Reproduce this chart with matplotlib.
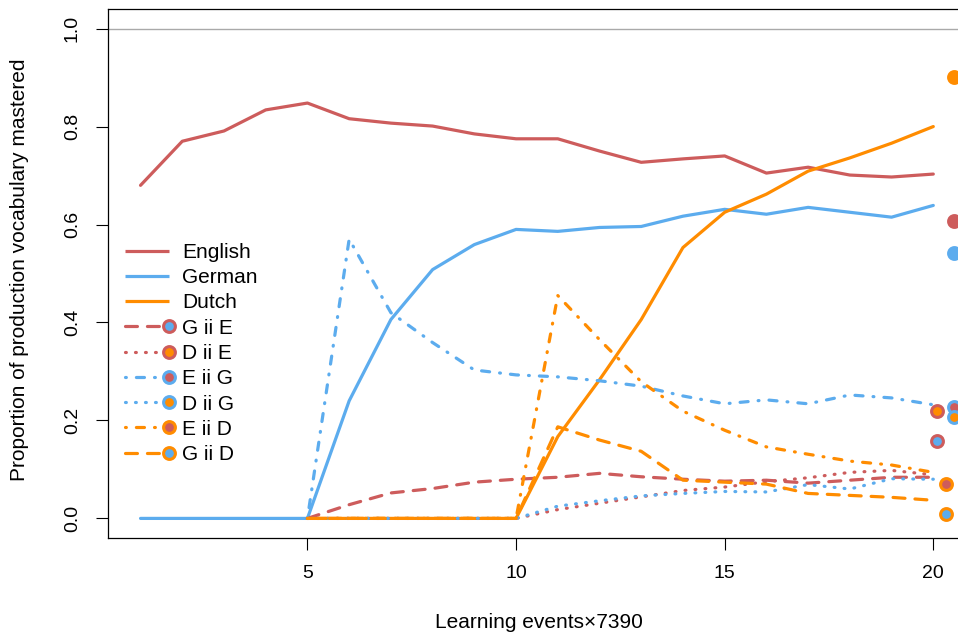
import numpy as np
import matplotlib
matplotlib.use("Agg")
import matplotlib.pyplot as plt
from matplotlib.lines import Line2D
from matplotlib.legend_handler import HandlerBase

plt.rcParams["font.family"] = ["Liberation Sans", "DejaVu Sans"]
plt.rcParams["lines.scale_dashes"] = False

nan = np.nan

# Learning events (in units of 7390)
steps = np.arange(1, 21)

# Proportion of production vocabulary mastered, per language
english = [0.680, 0.770, 0.791, 0.834, 0.848, 0.816, 0.807, 0.801, 0.785, 0.775,
           0.775, 0.750, 0.727, 0.734, 0.740, 0.705, 0.717, 0.701, 0.697, 0.703]
german = [0, 0, 0, 0, 0, 0.240, 0.406, 0.508, 0.559, 0.590,
          0.586, 0.594, 0.596, 0.617, 0.631, 0.621, 0.635, 0.625, 0.615, 0.639]
dutch = [nan, nan, nan, nan, 0, 0, 0, 0, 0, 0,
         0.167, 0.283, 0.406, 0.553, 0.625, 0.662, 0.709, 0.736, 0.766, 0.800]

# Cross-language intrusions
g_ii_e = [nan, nan, nan, nan, 0, 0.028, 0.052, 0.061, 0.074, 0.080,
          0.084, 0.092, 0.085, 0.080, 0.076, 0.078, 0.072, 0.078, 0.084, 0.084]
d_ii_e = [nan, nan, nan, nan, 0, 0, 0, 0, 0, 0,
          0.018, 0.031, 0.044, 0.057, 0.064, 0.075, 0.083, 0.094, 0.098, 0.089]
e_ii_g = [nan, nan, nan, nan, 0, 0.570, 0.420, 0.359, 0.303, 0.293,
          0.289, 0.281, 0.270, 0.250, 0.234, 0.242, 0.234, 0.252, 0.246, 0.232]
d_ii_g = [nan, nan, nan, nan, 0, 0, 0, 0, 0, 0,
          0.025, 0.036, 0.046, 0.051, 0.055, 0.054, 0.069, 0.060, 0.081, 0.080]
e_ii_d = [nan, nan, nan, nan, 0, 0, 0, 0, 0, 0,
          0.455, 0.365, 0.279, 0.219, 0.180, 0.146, 0.131, 0.117, 0.109, 0.094]
g_ii_d = [nan, nan, nan, nan, 0, 0, 0, 0, 0, 0,
          0.187, 0.160, 0.137, 0.078, 0.074, 0.070, 0.051, 0.047, 0.043, 0.037]

# Reference values shown as points beside the final step
ref_names = ["English", "German", "Dutch",
             "G ii E", "D ii E", "E ii G", "D ii G", "E ii D", "G ii D"]
ref_x = [20.5, 20.5, 20.5, 20.1, 20.1, 20.5, 20.5, 20.3, 20.3]
ref_y = [0.607, 0.541, 0.902, 0.158, 0.219, 0.227, 0.207, 0.070, 0.010]

x_ticks = [5, 10, 15, 20]
y_ticks = [0.0, 0.2, 0.4, 0.6, 0.8, 1.0]

RED = "#CD5C5C"
BLUE = "#5CACEE"
ORANGE = "#FF8C00"

DASHED = (0, (8.6, 7.2))
DOTTED = (0, (0.6, 6.6))
DOTDASH = (0, (0.6, 7.25, 5.8, 7.25))
LW = 2.3
MS = 8.5
MEW = 2.2

# (label, values, line colour, line style, point edge, point fill)
series = [
    ("English", english, RED, "-", RED, RED),
    ("German", german, BLUE, "-", BLUE, BLUE),
    ("Dutch", dutch, ORANGE, "-", ORANGE, ORANGE),
    ("G ii E", g_ii_e, RED, DASHED, RED, BLUE),
    ("D ii E", d_ii_e, RED, DOTTED, RED, ORANGE),
    ("E ii G", e_ii_g, BLUE, DOTDASH, BLUE, RED),
    ("D ii G", d_ii_g, BLUE, DOTTED, BLUE, ORANGE),
    ("E ii D", e_ii_d, ORANGE, DOTDASH, ORANGE, RED),
    ("G ii D", g_ii_d, ORANGE, DASHED, ORANGE, BLUE),
]

W, H = 958, 637
fig = plt.figure(figsize=(W / 100, H / 100), dpi=100)
ax = fig.add_axes([108 / W, (H - 538) / H, (986.7 - 108) / W, (538 - 9) / H])
ax.set_xlim(0.22, 21.28)
ax.set_ylim(-0.04, 1.04)

ax.axhline(1.0, color="#A9A9A9", lw=1.0, zorder=1)

handles = []
for label, vals, col, ls, edge, fill in series:
    ax.plot(steps, vals, color=col, linestyle=ls, lw=LW,
            dash_capstyle="round", solid_capstyle="round", zorder=2)
    if ls == "-":
        h = Line2D([], [], color=col, linestyle=ls, lw=LW)
    else:
        h = Line2D([], [], color=col, linestyle=ls, lw=LW, marker="o",
                   markersize=MS, markerfacecolor=fill, markeredgecolor=edge,
                   markeredgewidth=MEW)
    handles.append(h)

style = {label: (edge, fill) for label, _, _, _, edge, fill in series}
for name, px, py in zip(ref_names, ref_x, ref_y):
    edge, fill = style[name]
    ax.plot([px], [py], linestyle="none", marker="o", markersize=MS,
            markerfacecolor=fill, markeredgecolor=edge, markeredgewidth=MEW,
            zorder=3, clip_on=False)


class EndPointHandler(HandlerBase):
    """Legend entry: a line sample with its point at the right end."""

    def create_artists(self, legend, orig_handle, xdescent, ydescent,
                       width, height, fontsize, trans):
        y = (height - ydescent) / 2
        x0, x1 = -xdescent, width - xdescent
        ls = orig_handle.get_linestyle()
        line = Line2D([x0, x1], [y, y], color=orig_handle.get_color(),
                      lw=orig_handle.get_linewidth(),
                      dash_capstyle="round", solid_capstyle="butt")
        if ls in ("-", "solid"):
            line.set_linestyle("-")
        else:
            line.set_linestyle(orig_handle._unscaled_dash_pattern)
        line.set_transform(trans)
        artists = [line]
        if orig_handle.get_marker() not in (None, "None", "none", ""):
            pt = Line2D([x1], [y], linestyle="none", marker=orig_handle.get_marker(),
                        markersize=orig_handle.get_markersize(),
                        markerfacecolor=orig_handle.get_markerfacecolor(),
                        markeredgecolor=orig_handle.get_markeredgecolor(),
                        markeredgewidth=orig_handle.get_markeredgewidth())
            pt.set_transform(trans)
            artists.append(pt)
        return artists


handler = EndPointHandler()
leg = ax.legend(handles, [s[0] for s in series], loc="upper left",
                bbox_to_anchor=((125 - 108) / 878.7, (538 - 243) / 529),
                frameon=False, fontsize=15,
                handlelength=2.1, handletextpad=0.65, labelspacing=0.30,
                borderpad=0, borderaxespad=0,
                handler_map={h: handler for h in handles})

ax.set_xticks(x_ticks)
ax.set_xticklabels([str(v) for v in x_ticks])
ax.set_yticks(y_ticks)
ax.set_yticklabels([f"{v:.1f}" for v in y_ticks])
ax.tick_params(axis="both", direction="out", length=8.6, width=0.8,
               labelsize=14, pad=11, colors="black")
ax.tick_params(axis="y", labelrotation=90)
for lab in ax.get_yticklabels():
    lab.set_va("center")

for sp in ax.spines.values():
    sp.set_linewidth(0.9)
    sp.set_color("black")

ax.set_xlabel("Learning events\u00d77390", fontsize=15)
ax.xaxis.set_label_coords((539 - 108) / 878.7, (538 - 622) / 529)
ax.xaxis.label.set_va("center")
ax.set_ylabel("Proportion of production vocabulary mastered", fontsize=15)
ax.yaxis.set_label_coords((20 - 108) / 878.7, (538 - 270) / 529)
ax.yaxis.label.set_va("center")

fig.savefig("out.png", dpi=100)
